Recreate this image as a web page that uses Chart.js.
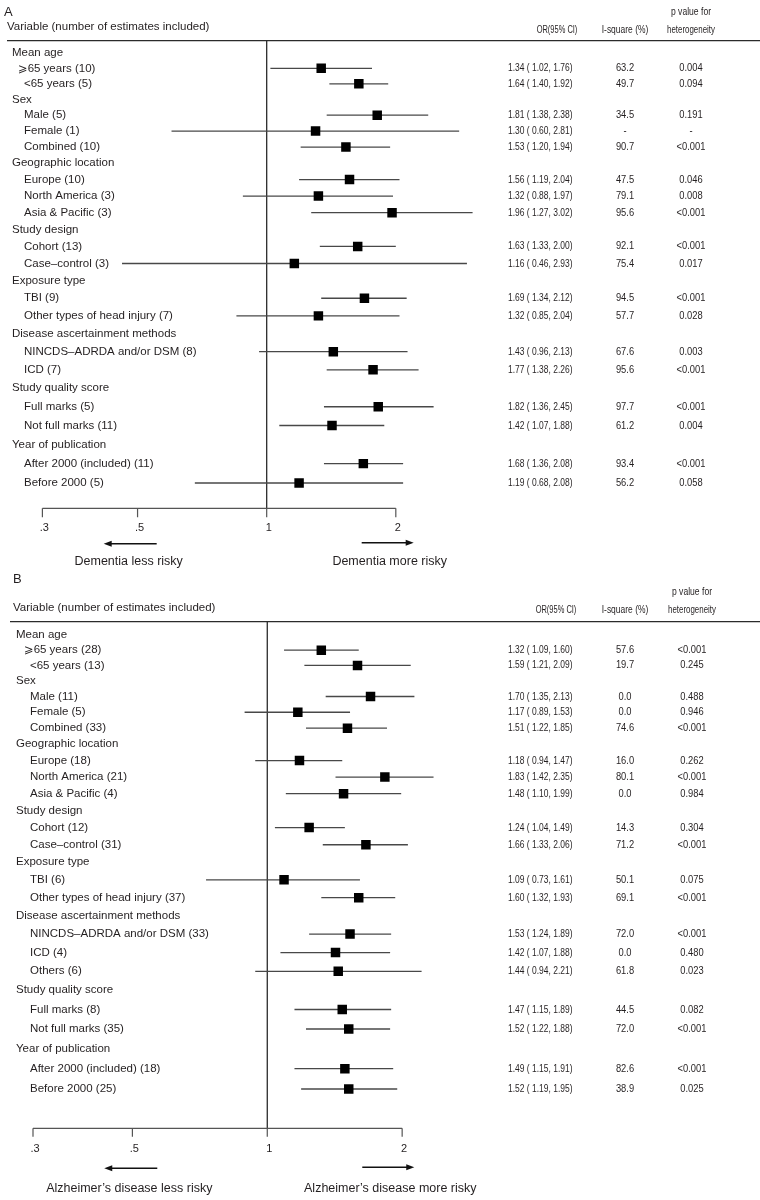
<!DOCTYPE html>
<html>
<head>
<meta charset="utf-8">
<script src="https://cdn.jsdelivr.net/npm/chart.js@4.4.1/dist/chart.umd.min.js"></script>
<style>
  html, body { margin: 0; padding: 0; background: #fff; }
  canvas { display: block; }
</style>
</head>
<body>
<canvas id="chartA" width="760" height="570"></canvas>
<canvas id="chartB" width="760" height="630"></canvas>
<script>
// ========================================
// DATOS
// ========================================

const xTicks = [0.3, 0.5, 1, 2];
const xTickLabels = ['.3', '.5', '1', '2'];

// Panel A - demencia
const groupsA = ['Mean age', 'Sex', 'Geographic location', 'Study design', 'Exposure type',
  'Disease ascertainment methods', 'Study quality score', 'Year of publication'];
const groupSizesA = [2, 3, 3, 2, 2, 2, 2, 2];
const labelsA = ['⩾65 years (10)', '<65 years (5)', 'Male (5)', 'Female (1)', 'Combined (10)',
  'Europe (10)', 'North America (3)', 'Asia & Pacific (3)', 'Cohort (13)', 'Case–control (3)',
  'TBI (9)', 'Other types of head injury (7)', 'NINCDS–ADRDA and/or DSM (8)', 'ICD (7)',
  'Full marks (5)', 'Not full marks (11)', 'After 2000 (included) (11)', 'Before 2000 (5)'];
const orA = [1.34, 1.64, 1.81, 1.30, 1.53, 1.56, 1.32, 1.96, 1.63, 1.16, 1.69, 1.32, 1.43, 1.77, 1.82, 1.42, 1.68, 1.19];
const lowA = [1.02, 1.40, 1.38, 0.60, 1.20, 1.19, 0.88, 1.27, 1.33, 0.46, 1.34, 0.85, 0.96, 1.38, 1.36, 1.07, 1.36, 0.68];
const highA = [1.76, 1.92, 2.38, 2.81, 1.94, 2.04, 1.97, 3.02, 2.00, 2.93, 2.12, 2.04, 2.13, 2.26, 2.45, 1.88, 2.08, 2.08];
const i2A = ['63.2', '49.7', '34.5', '-', '90.7', '47.5', '79.1', '95.6', '92.1', '75.4', '94.5', '57.7', '67.6', '95.6', '97.7', '61.2', '93.4', '56.2'];
const pA = ['0.004', '0.094', '0.191', '-', '<0.001', '0.046', '0.008', '<0.001', '<0.001', '0.017', '<0.001', '0.028', '0.003', '<0.001', '<0.001', '0.004', '<0.001', '0.058'];

// Panel B - Alzheimer
const groupsB = ['Mean age', 'Sex', 'Geographic location', 'Study design', 'Exposure type',
  'Disease ascertainment methods', 'Study quality score', 'Year of publication'];
const groupSizesB = [2, 3, 3, 2, 2, 3, 2, 2];
const labelsB = ['⩾65 years (28)', '<65 years (13)', 'Male (11)', 'Female (5)', 'Combined (33)',
  'Europe (18)', 'North America (21)', 'Asia & Pacific (4)', 'Cohort (12)', 'Case–control (31)',
  'TBI (6)', 'Other types of head injury (37)', 'NINCDS–ADRDA and/or DSM (33)', 'ICD (4)', 'Others (6)',
  'Full marks (8)', 'Not full marks (35)', 'After 2000 (included) (18)', 'Before 2000 (25)'];
const orB = [1.32, 1.59, 1.70, 1.17, 1.51, 1.18, 1.83, 1.48, 1.24, 1.66, 1.09, 1.60, 1.53, 1.42, 1.44, 1.47, 1.52, 1.49, 1.52];
const lowB = [1.09, 1.21, 1.35, 0.89, 1.22, 0.94, 1.42, 1.10, 1.04, 1.33, 0.73, 1.32, 1.24, 1.07, 0.94, 1.15, 1.22, 1.15, 1.19];
const highB = [1.60, 2.09, 2.13, 1.53, 1.85, 1.47, 2.35, 1.99, 1.49, 2.06, 1.61, 1.93, 1.89, 1.88, 2.21, 1.89, 1.88, 1.91, 1.95];
const i2B = ['57.6', '19.7', '0.0', '0.0', '74.6', '16.0', '80.1', '0.0', '14.3', '71.2', '50.1', '69.1', '72.0', '0.0', '61.8', '44.5', '72.0', '82.6', '38.9'];
const pB = ['<0.001', '0.245', '0.488', '0.946', '<0.001', '0.262', '<0.001', '0.984', '0.304', '<0.001', '0.075', '<0.001', '<0.001', '0.480', '0.023', '0.082', '<0.001', '<0.001', '0.025'];

// ========================================
// ESTILO
// ========================================

const TEXT_COLOR = '#231f20';
const LINE_COLOR = '#2b2b2b';
const CI_COLOR = '#484848';
const FONT = '"Liberation Sans", Arial, "DejaVu Sans", sans-serif';

// Construir filas: cabecera de grupo + sus categorías
function buildRows(groups, sizes, labels) {
  const rows = [];
  let item = 0;
  groups.forEach((g, gi) => {
    rows.push({ text: g, header: true });
    for (let j = 0; j < sizes[gi]; j++) {
      rows.push({ text: labels[item], item: item });
      item++;
    }
  });
  return rows;
}

function formatCI(est, lo, hi) {
  return `${est.toFixed(2)} ( ${lo.toFixed(2)}, ${hi.toFixed(2)})`;
}

function drawText(ctx, str, x, y, size, align, sx) {
  ctx.save();
  ctx.font = `${size}px ${FONT}`;
  ctx.textAlign = align || 'left';
  ctx.textBaseline = 'middle';
  ctx.fillStyle = TEXT_COLOR;
  ctx.translate(x, y);
  ctx.scale(sx || 1, 1);
  ctx.fillText(str, 0, 0);
  ctx.restore();
}

function drawArrow(ctx, from, to, y) {
  const dir = Math.sign(to - from);
  ctx.beginPath();
  ctx.moveTo(from, y);
  ctx.lineTo(to - dir * 6, y);
  ctx.stroke();
  ctx.beginPath();
  ctx.moveTo(to, y);
  ctx.lineTo(to - dir * 8, y - 3);
  ctx.lineTo(to - dir * 8, y + 3);
  ctx.closePath();
  ctx.fill();
}

// Plugin que dibuja ejes, líneas guía y columnas de texto
function forestPlugin(panel) {
  const L = panel.layout;
  return {
    id: 'forest' + panel.letter,
    beforeDatasetsDraw(chart) {
      const { ctx, chartArea: area, scales: { x } } = chart;
      const x1 = x.getPixelForValue(1);
      ctx.save();
      ctx.strokeStyle = LINE_COLOR;
      ctx.lineWidth = 1.3;
      // línea de cabecera
      ctx.beginPath();
      ctx.moveTo(L.ruleX, area.top);
      ctx.lineTo(chart.width, area.top);
      ctx.stroke();
      // línea de no efecto
      ctx.beginPath();
      ctx.moveTo(x1, area.top);
      ctx.lineTo(x1, area.bottom);
      ctx.stroke();
      // eje x en forma de corchete
      ctx.strokeStyle = '#555';
      ctx.lineWidth = 1.2;
      const xa = x.getPixelForValue(xTicks[0]);
      const xb = x.getPixelForValue(xTicks[xTicks.length - 1]);
      ctx.beginPath();
      ctx.moveTo(xa, area.bottom);
      ctx.lineTo(xb, area.bottom);
      xTicks.forEach(v => {
        const px = x.getPixelForValue(v);
        ctx.moveTo(px, area.bottom);
        ctx.lineTo(px, area.bottom + L.tickLen);
      });
      ctx.stroke();
      ctx.restore();
    },
    afterDraw(chart) {
      const { ctx, chartArea: area, scales: { x, y } } = chart;
      const x1 = x.getPixelForValue(1);

      drawText(ctx, panel.letter, L.letterX, L.letterY, 13);
      drawText(ctx, 'Variable (number of estimates included)', L.varX, L.varY, 11.5);
      drawText(ctx, 'OR(95% CI)', L.orHeadX, L.headY2, 11, 'center', 0.68);
      drawText(ctx, 'I-square (%)', L.i2X, L.headY2, 11, 'center', 0.77);
      drawText(ctx, 'p value for', L.pX, L.headY1, 11, 'center', 0.78);
      drawText(ctx, 'heterogeneity', L.pX, L.headY2, 11, 'center', 0.72);

      panel.rows.forEach((row, k) => {
        const py = y.getPixelForValue(panel.rowBase - k);
        if (row.header) {
          drawText(ctx, row.text, L.groupX, py, 11.5);
          return;
        }
        const lx = row.text.startsWith('⩾') ? L.itemX - 6 : L.itemX;
        drawText(ctx, row.text, lx, py, 11.5);
        const i = row.item;
        drawText(ctx, formatCI(panel.or[i], panel.low[i], panel.high[i]), L.orX, py, 11, 'left', 0.77);
        drawText(ctx, panel.i2[i], L.i2X, py, 11, 'center', 0.85);
        drawText(ctx, panel.p[i], L.pX, py, 11, 'center', 0.85);
      });

      // etiquetas del eje x
      xTicks.forEach((v, i) => {
        drawText(ctx, xTickLabels[i], x.getPixelForValue(v) + 2, area.bottom + L.tickLabelDy, 11, 'center');
      });

      // flechas y leyendas de riesgo
      ctx.save();
      ctx.strokeStyle = '#111';
      ctx.fillStyle = '#111';
      ctx.lineWidth = 1.4;
      drawArrow(ctx, x1 - 110, x1 - 163, area.bottom + L.arrowDy);
      drawArrow(ctx, x1 + 95, x1 + 147, area.bottom + L.arrowDy - 1);
      ctx.restore();
      drawText(ctx, panel.lessText, x1 - 138, area.bottom + L.textDy, 12.5, 'center');
      drawText(ctx, panel.moreText, x1 + 123, area.bottom + L.textDy, 12.5, 'center');
    }
  };
}

function renderForest(canvasId, panel) {
  const items = panel.rows
    .map((row, k) => ({ row, value: panel.rowBase - k }))
    .filter(r => !r.row.header);

  const markers = {
    type: 'scatter',
    data: items.map(r => ({ x: panel.or[r.row.item], y: r.value })),
    pointStyle: 'rect',
    pointRadius: 6.7,
    backgroundColor: '#000',
    borderWidth: 0
  };

  const ciLines = items.map(r => ({
    type: 'line',
    data: [
      { x: panel.low[r.row.item], y: r.value },
      { x: panel.high[r.row.item], y: r.value }
    ],
    borderColor: CI_COLOR,
    borderWidth: 1.3,
    pointRadius: 0
  }));

  return new Chart(document.getElementById(canvasId), {
    type: 'scatter',
    data: { datasets: [markers, ...ciLines] },
    options: {
      responsive: false,
      animation: false,
      events: [],
      layout: { padding: panel.padding },
      plugins: { legend: { display: false }, tooltip: { enabled: false } },
      scales: {
        x: { type: 'logarithmic', display: false, min: 0.3, max: 3.3 },
        // eje de filas logarítmico: reproduce el espaciado creciente del original
        y: { type: 'logarithmic', display: false, min: panel.yMin, max: panel.yMax }
      }
    },
    plugins: [forestPlugin(panel)]
  });
}

// ========================================
// PANELES
// ========================================

const panelA = {
  letter: 'A',
  rows: buildRows(groupsA, groupSizesA, labelsA),
  or: orA, low: lowA, high: highA, i2: i2A, p: pA,
  lessText: 'Dementia less risky',
  moreText: 'Dementia more risky',
  rowBase: 115.6, yMin: 89.31, yMax: 116.41,
  padding: { left: 42.4, right: 270.9, top: 40.7, bottom: 61.7 },
  layout: {
    letterX: 4, letterY: 12, varX: 7, varY: 27, headY1: 12, headY2: 30, ruleX: 7,
    groupX: 12, itemX: 24, orHeadX: 557, orX: 508, i2X: 625, pX: 691,
    tickLen: 9, tickLabelDy: 19.4, arrowDy: 35.5, textDy: 53.7
  }
};

const panelB = {
  letter: 'B',
  rows: buildRows(groupsB, groupSizesB, labelsB),
  or: orB, low: lowB, high: highB, i2: i2B, p: pB,
  lessText: 'Alzheimer’s disease less risky',
  moreText: 'Alzheimer’s disease more risky',
  rowBase: 98.9, yMin: 71.0, yMax: 99.79,
  padding: { left: 33, right: 260.4, top: 51.7, bottom: 71.7 },
  layout: {
    letterX: 13, letterY: 9, varX: 13, varY: 38.3, headY1: 21.7, headY2: 40, ruleX: 10,
    groupX: 16, itemX: 30, orHeadX: 556, orX: 508, i2X: 625, pX: 692,
    tickLen: 8.4, tickLabelDy: 20.7, arrowDy: 40, textDy: 60.7
  }
};

renderForest('chartA', panelA);
renderForest('chartB', panelB);
</script>
</body>
</html>
